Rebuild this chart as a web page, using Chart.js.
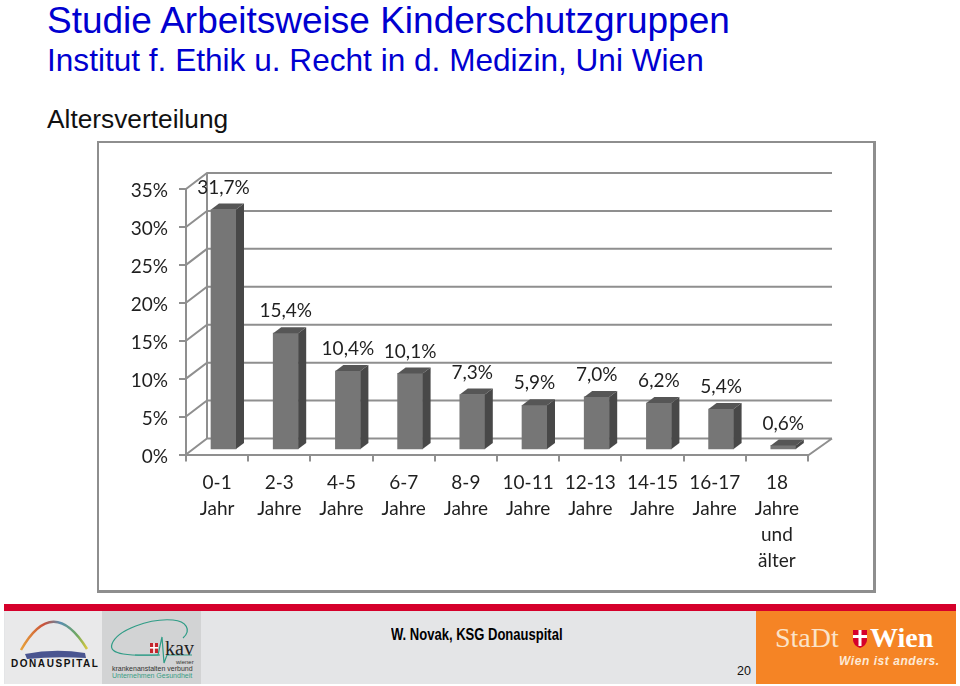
<!DOCTYPE html>
<html><head><meta charset="utf-8">
<script src="https://cdn.jsdelivr.net/npm/chart.js@4/dist/chart.umd.min.js"></script>
<style>
html,body{margin:0;padding:0;background:#fff;width:960px;height:686px;overflow:hidden}
.t{position:absolute;white-space:nowrap;font-family:"Liberation Sans",Arial,sans-serif;line-height:1}
#frame{position:absolute;left:97px;top:141px;width:774px;height:447px;border:2px solid #8e8e8e;border-right-width:3px;border-bottom-width:3px;background:#fff}
#c{position:absolute;left:0;top:0}
#red{position:absolute;left:4px;top:604px;width:952px;height:7px;background:#d5002b}
#band{position:absolute;left:4px;top:611px;width:752px;height:73px;background:#e4e5e7}
#l1{position:absolute;left:5px;top:611px;width:97px;height:73px;background:#e9e9ea}
#l2{position:absolute;left:102px;top:611px;width:99px;height:73px;background:#d2d3d4}
#or{position:absolute;left:756px;top:611px;width:200px;height:73px;background:#f58425}
svg{position:absolute;left:0;top:0}
</style></head><body>
<div class="t" style="left:47px;top:2px;font-size:37px;color:#0000d0;">Studie Arbeitsweise Kinderschutzgruppen</div>
<div class="t" style="left:47px;top:45px;font-size:31.6px;color:#0000d0">Institut f. Ethik u. Recht in d. Medizin, Uni Wien</div>
<div class="t" style="left:47px;top:106px;font-size:26.3px;color:#111">Altersverteilung</div>
<div id="frame"></div>
<div id="red"></div><div id="band"></div><div id="l1"></div><div id="l2"></div><div id="or"></div>
<svg width="960" height="686">
 <defs><linearGradient id="rb" x1="0" x2="1" y1="0" y2="0"><stop offset="0" stop-color="#e8a23a"/><stop offset=".35" stop-color="#c9503a"/><stop offset=".6" stop-color="#5a8fb0"/><stop offset=".85" stop-color="#6fa860"/><stop offset="1" stop-color="#d8c840"/></linearGradient></defs>
 <path d="M21 650 Q53 594 87 649" fill="none" stroke="url(#rb)" stroke-width="2.5"/>
 <path d="M25 654 Q55 648 85 653 L86 658 Q55 656 27 659 Z" fill="#4a5590"/>
 <path d="M160 655 C130 656 108 655 112 644 C117 630 150 618 173 620 C186 621 192 630 183 638" fill="none" stroke="#2f9c86" stroke-width="1.2"/>
 <path d="M135 655 L158 655 L162 637 L164 663 L167 655 L192 655" fill="none" stroke="#2f9c86" stroke-width="1.2"/>
 <rect x="150" y="643" width="8" height="10" fill="#c4242c"/><rect x="150" y="647" width="8" height="1.6" fill="#fff"/><rect x="153.2" y="643" width="1.6" height="10" fill="#fff"/>
 <path d="M853 630 h14 v10 q0 5 -7 8 q-7 -3 -7 -8 z" fill="#d5002b"/><rect x="853" y="635" width="14" height="3" fill="#fff"/><rect x="858.5" y="630" width="3" height="16" fill="#fff"/>
</svg>
<div class="t" style="left:11px;top:659px;font-size:10px;font-weight:bold;letter-spacing:1.55px;color:#111">DONAUSPITAL</div>
<div class="t" style="left:165px;top:638px;font-size:20px;font-family:'Liberation Serif',serif;color:#222">kav</div>
<div class="t" style="left:176px;top:659px;font-size:6px;color:#333">wiener</div>
<div class="t" style="left:112px;top:665px;font-size:7px;color:#333">krankenanstalten verbund</div>
<div class="t" style="left:112px;top:672px;font-size:7px;color:#3a9d84">Unternehmen Gesundheit</div>
<div class="t" style="left:391px;top:627px;font-size:16px;font-weight:bold;color:#000;transform:scaleX(.814);transform-origin:0 0">W. Novak, KSG Donauspital</div>
<div class="t" style="left:737px;top:665px;font-size:12.5px;color:#111">20</div>
<div class="t" style="left:775px;top:624px;font-size:28px;font-family:'Liberation Serif',serif;color:#fbe3c8">StaDt</div>
<div class="t" style="left:870px;top:624px;font-size:28px;font-weight:bold;font-family:'Liberation Serif',serif;color:#fff">Wien</div>
<div class="t" style="left:839px;top:655px;font-size:12px;font-weight:bold;font-style:italic;letter-spacing:.55px;color:#fde9d5">Wien ist anders.</div>
<canvas id="c" width="960" height="686"></canvas>
<script>
const categories = [["0-1","Jahr"],["2-3","Jahre"],["4-5","Jahre"],["6-7","Jahre"],["8-9","Jahre"],["10-11","Jahre"],["12-13","Jahre"],["14-15","Jahre"],["16-17","Jahre"],["18","Jahre","und","älter"]];
const shares = [31.7,15.4,10.4,10.1,7.3,5.9,7.0,6.2,5.4,0.6];
const valueLabels = ["31,7%","15,4%","10,4%","10,1%","7,3%","5,9%","7,0%","6,2%","5,4%","0,6%"];

const GRID = "#8f8f8f", INK = "#1f1f1f", FONT = "Lato, sans-serif";
const WALL = {dx:21, dy:-16};      // depth of the back wall
const BAR = {dx:6.4, dy:-4.5};     // bars stand inside the floor
const DEPTH = {dx:8, dy:-6};       // depth of each bar

const walls = {
  id:"walls",
  beforeDatasetsDraw(ch){
    const {ctx, chartArea:a, scales:{y}} = ch;
    ctx.save(); ctx.strokeStyle = GRID; ctx.lineWidth = 2;
    ctx.beginPath();
    y.ticks.forEach(t=>{
      const p = y.getPixelForValue(t.value);
      ctx.moveTo(a.left,p); ctx.lineTo(a.left+WALL.dx,p+WALL.dy); ctx.lineTo(a.right+24,p+WALL.dy);
    });
    ctx.moveTo(a.left+WALL.dx,y.getPixelForValue(35)+WALL.dy); ctx.lineTo(a.left+WALL.dx,y.getPixelForValue(0)+WALL.dy);
    ctx.moveTo(a.right,a.bottom+1); ctx.lineTo(a.right+24,a.bottom+WALL.dy);
    ctx.stroke(); ctx.restore();
  },
  beforeDatasetDraw(ch){ ch.ctx.save(); ch.ctx.translate(BAR.dx,BAR.dy); },
  afterDatasetDraw(ch){
    const ctx = ch.ctx;
    ch.getDatasetMeta(0).data.forEach(b=>{
      const l=b.x-b.width/2, r=b.x+b.width/2, tp=b.y, bt=b.base;
      ctx.fillStyle="#565656";
      ctx.beginPath();ctx.moveTo(l,tp);ctx.lineTo(l+DEPTH.dx,tp+DEPTH.dy);ctx.lineTo(r+DEPTH.dx,tp+DEPTH.dy);ctx.lineTo(r,tp);ctx.closePath();ctx.fill();
      ctx.fillStyle="#484848";
      ctx.beginPath();ctx.moveTo(r,tp);ctx.lineTo(r+DEPTH.dx,tp+DEPTH.dy);ctx.lineTo(r+DEPTH.dx,bt+DEPTH.dy);ctx.lineTo(r,bt);ctx.closePath();ctx.fill();
    });
    ctx.restore();
  },
  afterDatasetsDraw(ch){
    const ctx = ch.ctx;
    ctx.save(); ctx.font="19px "+FONT; ctx.fillStyle=INK; ctx.textAlign="center"; ctx.textBaseline="middle";
    ch.getDatasetMeta(0).data.forEach((b,i)=>{ ctx.fillText(valueLabels[i], b.x+BAR.dx, b.y+BAR.dy-22); });
    ctx.restore();
  }
};

new Chart(document.getElementById("c"),{
  type:"bar",
  data:{labels:categories,datasets:[{data:shares,backgroundColor:"#767676",barThickness:25,borderWidth:0}]},
  plugins:[walls],
  options:{
    responsive:false,animation:false,
    layout:{padding:{left:0,top:189,right:152,bottom:0}},
    plugins:{legend:{display:false},tooltip:{enabled:false},title:{display:false}},
    scales:{
      y:{min:0,max:35,afterFit(s){s.width=186;},
        ticks:{stepSize:5,callback:v=>v+"%",color:INK,padding:11,labelOffset:2,font:{family:FONT,size:19}},
        grid:{drawOnChartArea:false,color:GRID,lineWidth:2,tickLength:7},
        border:{color:GRID,width:2}},
      x:{afterFit(s){s.height=231.5;},
        ticks:{color:INK,padding:8,maxRotation:0,autoSkip:false,font:{family:FONT,size:19,lineHeight:1.37}},
        grid:{drawOnChartArea:false,color:GRID,lineWidth:2,tickLength:7},
        border:{color:GRID,width:2}}
    }
  }
});
</script>
</body></html>
